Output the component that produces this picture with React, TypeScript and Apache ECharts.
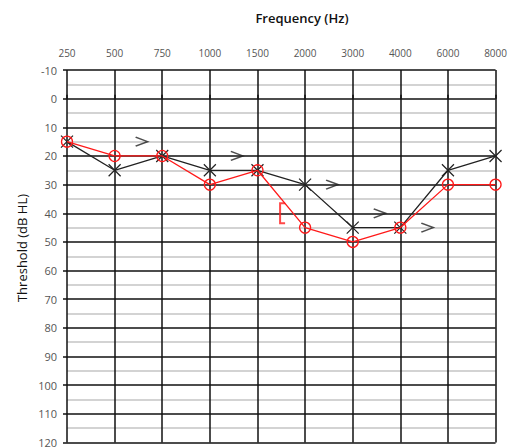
import React, { useEffect, useRef } from "react";
import * as echarts from "echarts";

const frequencies = ["250", "500", "750", "1000", "1500", "2000", "3000", "4000", "6000", "8000"];
const leftAir = [15, 25, 20, 25, 25, 30, 45, 45, 25, 20];
const rightAir = [15, 20, 20, 30, 25, 45, 50, 45, 30, 30];
const leftBone = [null, 15, null, 20, null, 30, 40, 45, null, null];
const rightBoneMasked = [null, null, null, null, null, 40, null, null, null, null];

export default function App() {
  const ref = useRef<HTMLDivElement>(null);
  useEffect(() => {
    const chart = echarts.init(ref.current!, null, { renderer: "svg" });
    const font = "'Open Sans', 'Liberation Sans', sans-serif";
    chart.setOption({
      animation: false,
      backgroundColor: "#fff",
      textStyle: { fontFamily: font },
      grid: { left: 67, right: 11, top: 70, bottom: 3 },
      graphic: [
        {
          type: "text",
          x: 302,
          y: 18,
          style: {
            text: "Frequency (Hz)",
            font: `600 13px ${font}`,
            fill: "#111",
            align: "center",
            verticalAlign: "middle",
          },
        },
        {
          type: "text",
          x: 22,
          y: 248,
          rotation: Math.PI / 2,
          style: {
            text: "Threshold (dB HL)",
            font: `13px ${font}`,
            fill: "#111",
            align: "center",
            verticalAlign: "middle",
          },
        },
      ],
      xAxis: {
        type: "category",
        data: frequencies,
        position: "top",
        boundaryGap: false,
        axisLine: { show: false },
        axisTick: { show: true, length: 4, lineStyle: { color: "#111", width: 1.5 } },
        axisLabel: { color: "#555", fontSize: 10, margin: 12 },
        splitLine: { show: true, lineStyle: { color: "#111", width: 1.5 } },
      },
      yAxis: {
        type: "value",
        inverse: true,
        min: -10,
        max: 120,
        interval: 10,
        axisLine: { show: false },
        axisTick: { show: true, length: 4, lineStyle: { color: "#111", width: 1.5 } },
        axisLabel: { color: "#555", fontSize: 11, margin: 10 },
        splitLine: { show: true, lineStyle: { color: "#111", width: 1.5 } },
        minorTick: { show: false, splitNumber: 2 },
        minorSplitLine: { show: true, lineStyle: { color: "#c4c4c4", width: 1.5 } },
      },
      series: [
        {
          type: "line",
          name: "Left air",
          data: leftAir,
          symbol: "path://M0,0L10,10M10,0L0,10",
          symbolSize: 12,
          lineStyle: { color: "#222", width: 1.3 },
          itemStyle: { color: "none", borderColor: "#222", borderWidth: 1.2 },
          z: 3,
        },
        {
          type: "line",
          name: "Right air",
          data: rightAir,
          symbol: "circle",
          symbolSize: 11,
          lineStyle: { color: "#ff1a1a", width: 1.3 },
          itemStyle: { color: "transparent", borderColor: "#ff1a1a", borderWidth: 1.3 },
          z: 4,
        },
        {
          type: "scatter",
          name: "Left bone",
          data: leftBone,
          symbol: "path://M0,0L10,4L0,8",
          symbolSize: [12, 9],
          symbolOffset: [27, 0],
          itemStyle: { color: "none", borderColor: "#222", borderWidth: 1.6 },
          z: 5,
        },
        {
          type: "scatter",
          name: "Right bone masked",
          data: rightBoneMasked,
          symbol: "path://M0,0H6V2H2V20H6V22H0Z",
          symbolSize: [6, 22],
          symbolOffset: [-23, 0],
          itemStyle: { color: "#ff1a1a", borderWidth: 0 },
          z: 5,
        },
      ],
    });
    return () => chart.dispose();
  }, []);
  return <div ref={ref} style={{ width: 510, height: 448, position: "absolute", left: 0, top: 0 }} />;
}
